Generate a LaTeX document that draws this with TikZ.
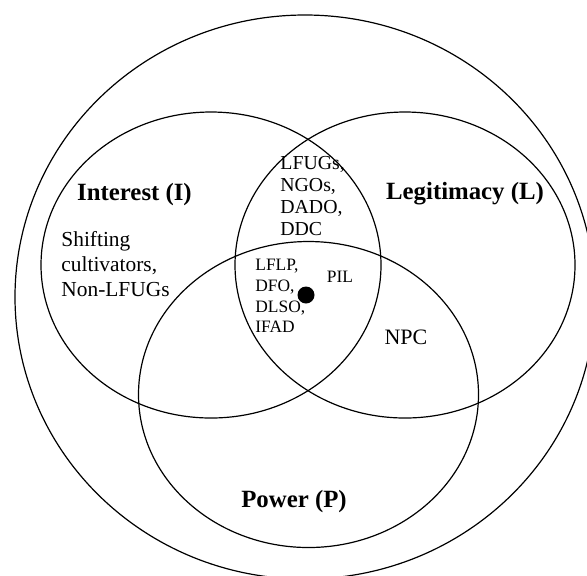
\documentclass[tikz,border=0pt]{standalone}
\usepackage{fontspec}
\setmainfont{Liberation Serif}
\usetikzlibrary{shapes.geometric,positioning}

\begin{document}
\begin{tikzpicture}[
        x=0.5pt, y=-0.5pt,
        every node/.style={inner sep=0pt},
        set/.style={ellipse, draw, line width=0.6pt, minimum width=170pt, minimum height=153pt},
        title/.style={font=\fontsize{12.4}{14}\selectfont\bfseries},
        actors/.style={align=left, anchor=west},
        dot/.style={circle, fill=black, minimum size=8.5pt}
    ]
        \useasboundingbox (0,0) rectangle (587,575);
        \node[set, minimum width=290pt, minimum height=282pt] (env) at (305,297) {};
        \node[set] (interest) at (211,265) {};
        \node[set] (legitimacy) at (405,265) {};
        \node[set] (power) at (308.5,394.5) {};
        \node[title] (interestlbl) at (134.5,195) {Interest (I)};
        \node[title] (legitimacylbl) at (465,194) {Legitimacy (L)};
        \node[title] (powerlbl) at (294,502) {Power (P)};
        \node[actors, font=\fontsize{10.7}{12.5}\selectfont] (dormant) at (61,264.5) {Shifting\\cultivators,\\Non-LFUGs};
        \node[actors, font=\fontsize{9.9}{10.85}\selectfont] (dependent) at (280,196) {LFUGs,\\NGOs,\\DADO,\\DDC};
        \node[actors, font=\fontsize{8.7}{10.35}\selectfont] (definitive) at (255,296) {LFLP,\\DFO,\\DLSO,\\IFAD};
        \node[dot] (core) at (306,295) {};
        \node[font=\fontsize{8.7}{10}\selectfont] (pil) at (340,277) {PIL};
        \node[font=\fontsize{11}{13}\selectfont] (npc) at (406,337) {NPC};
\end{tikzpicture}
\end{document}
